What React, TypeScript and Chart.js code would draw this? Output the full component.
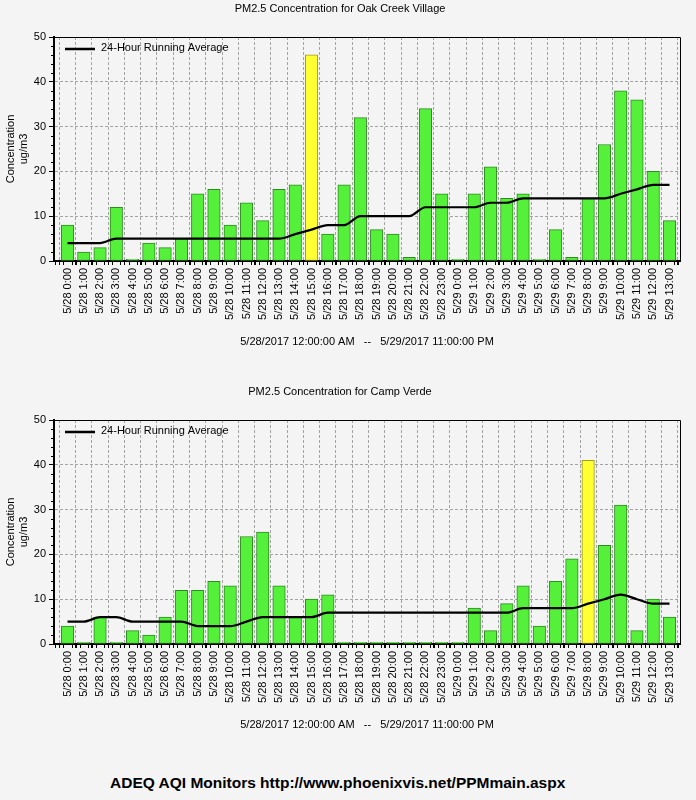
import React, { useEffect, useRef } from "react";
import { Chart, registerables } from "chart.js";

Chart.register(...registerables);

const FONT = "'Liberation Sans', Arial, Helvetica, sans-serif";
Chart.defaults.font.family = FONT;
Chart.defaults.font.size = 11;
Chart.defaults.color = "#000";

// Hourly categories shared by both monitors
const hourLabels = [
  "5/28 0:00", "5/28 1:00", "5/28 2:00", "5/28 3:00", "5/28 4:00", "5/28 5:00",
  "5/28 6:00", "5/28 7:00", "5/28 8:00", "5/28 9:00", "5/28 10:00", "5/28 11:00",
  "5/28 12:00", "5/28 13:00", "5/28 14:00", "5/28 15:00", "5/28 16:00", "5/28 17:00",
  "5/28 18:00", "5/28 19:00", "5/28 20:00", "5/28 21:00", "5/28 22:00", "5/28 23:00",
  "5/29 0:00", "5/29 1:00", "5/29 2:00", "5/29 3:00", "5/29 4:00", "5/29 5:00",
  "5/29 6:00", "5/29 7:00", "5/29 8:00", "5/29 9:00", "5/29 10:00", "5/29 11:00",
  "5/29 12:00", "5/29 13:00",
];

// Oak Creek Village, ug/m3
const oakCreekHourly = [
  8, 2, 3, 12, 0.4, 4, 3, 5, 15, 16, 8, 13, 9, 16, 17, 46, 6, 17, 32, 7, 6, 0.8, 34, 15,
  0.4, 15, 21, 14, 15, 0.4, 7, 0.8, 14, 26, 38, 36, 20, 9,
];
const oakCreekAverage = [
  4, 4, 4, 5, 5, 5, 5, 5, 5, 5, 5, 5, 5, 5, 6, 7, 8, 8, 10, 10, 10, 10, 12, 12,
  12, 12, 13, 13, 14, 14, 14, 14, 14, 14, 15, 16, 17, 17,
];
const oakCreekHighlight = ["5/28 15:00"];

// Camp Verde, ug/m3
const campVerdeHourly = [
  4, 0.4, 6, 0.4, 3, 2, 6, 12, 12, 14, 13, 24, 25, 13, 6, 10, 11, 0.4, 0.4, 0.4, 0.4, 0.4, 0.4, 0.4,
  0.4, 8, 3, 9, 13, 4, 14, 19, 41, 22, 31, 3, 10, 6,
];
const campVerdeAverage = [
  5, 5, 6, 6, 5, 5, 5, 5, 4, 4, 4, 5, 6, 6, 6, 6, 7, 7, 7, 7, 7, 7, 7, 7,
  7, 7, 7, 7, 8, 8, 8, 8, 9, 10, 11, 10, 9, 9,
];
const campVerdeHighlight = ["5/29 8:00"];

const yTickValues = [0, 10, 20, 30, 40, 50];
const yTitle = ["Concentration", "ug/m3"];
const averageLabel = "24-Hour Running Average";
const rangeLabel = "5/28/2017 12:00:00 AM   --   5/29/2017 11:00:00 PM";
const footerText = "ADEQ AQI Monitors http://www.phoenixvis.net/PPMmain.aspx";

const GREEN = "#55f03a";
const GREEN_EDGE = "#2f8a22";
const YELLOW = "#ffff33";
const YELLOW_EDGE = "#9c9c1e";
const GRID = "#a4a4a4";

const X_MIN = -0.83;
const X_MAX = hourLabels.length - 1 + 0.645;
const Y_MAX = 50;

// Thin top/right frame, minor tick marks and the in-plot legend
const framePlugin = {
  id: "frameAndLegend",
  afterDraw(chart: any) {
    const { ctx, chartArea: a, scales } = chart;
    const xs = scales.x;
    const ys = scales.y;
    ctx.save();
    ctx.strokeStyle = "#000";
    ctx.lineWidth = 1;
    ctx.beginPath();
    const top = Math.round(a.top) + 0.5;
    const right = Math.round(a.right) + 0.5;
    ctx.moveTo(a.left, top);
    ctx.lineTo(right, top);
    ctx.lineTo(right, a.bottom);
    ctx.stroke();

    ctx.beginPath();
    for (let v = Math.ceil(X_MIN * 4) / 4; v <= X_MAX; v += 0.25) {
      if (Number.isInteger(v)) continue;
      const px = Math.round(xs.getPixelForValue(v)) + 0.5;
      ctx.moveTo(px, a.bottom);
      ctx.lineTo(px, a.bottom + 4);
    }
    for (let v = 2; v < Y_MAX; v += 2) {
      if (v % 10 === 0) continue;
      const py = Math.round(ys.getPixelForValue(v)) + 0.5;
      ctx.moveTo(a.left - 3, py);
      ctx.lineTo(a.left, py);
    }
    ctx.stroke();

    const line = chart.data.datasets[0];
    const ly = a.top + 12;
    ctx.strokeStyle = line.borderColor;
    ctx.lineWidth = 2.5;
    ctx.beginPath();
    ctx.moveTo(a.left + 11, ly);
    ctx.lineTo(a.left + 41, ly);
    ctx.stroke();
    ctx.fillStyle = "#000";
    ctx.font = `11px ${FONT}`;
    ctx.textBaseline = "middle";
    ctx.textAlign = "left";
    ctx.fillText(line.label, a.left + 47, ly - 1);
    ctx.restore();
  },
};

type PanelProps = {
  title: string;
  hourly: number[];
  average: number[];
  highlight: string[];
  top: number;
};

function PanelChart({ title, hourly, average, highlight, top }: PanelProps) {
  const ref = useRef<HTMLCanvasElement>(null);

  useEffect(() => {
    const canvas = ref.current;
    if (!canvas) return;
    const chart = new Chart(canvas, {
      type: "bar",
      data: {
        datasets: [
          {
            type: "line",
            label: averageLabel,
            data: average.map((v, i) => ({ x: i, y: v })),
            borderColor: "#000",
            backgroundColor: "#000",
            borderWidth: 2.2,
            pointRadius: 0,
            cubicInterpolationMode: "monotone",
            order: 0,
          } as any,
          {
            type: "bar",
            label: "PM2.5",
            data: hourly.map((v, i) => ({ x: i, y: v })),
            backgroundColor: hourLabels.map((l) => (highlight.includes(l) ? YELLOW : GREEN)),
            borderColor: hourLabels.map((l) => (highlight.includes(l) ? YELLOW_EDGE : GREEN_EDGE)),
            borderWidth: 1,
            borderSkipped: false,
            barThickness: 12.5,
            order: 1,
          } as any,
        ],
      },
      options: {
        responsive: false,
        animation: false,
        events: [],
        layout: { padding: { left: 0, right: 16, top: 0, bottom: 11.4 } },
        plugins: {
          legend: { display: false },
          tooltip: { enabled: false },
          title: {
            display: true,
            text: title,
            color: "#000",
            font: { family: FONT, size: 11, weight: "normal" },
            padding: { top: 2.5, bottom: 21.3 },
          },
        },
        scales: {
          x: {
            type: "linear",
            min: X_MIN,
            max: X_MAX,
            offset: false,
            afterBuildTicks: (scale: any) => {
              scale.ticks = hourLabels.map((_, i) => ({ value: i }));
            },
            afterFit: (scale: any) => {
              scale.height = 87.6;
            },
            ticks: {
              autoSkip: false,
              minRotation: 90,
              maxRotation: 90,
              padding: 3,
              color: "#000",
              font: { family: FONT, size: 11 },
              callback: (v: any) => hourLabels[v] ?? "",
            },
            grid: {
              color: GRID,
              lineWidth: 1,
              tickColor: "#000",
              tickLength: 4,
            },
            border: { display: true, color: "#000", width: 2, dash: [3, 2] },
            title: {
              display: true,
              text: rangeLabel,
              color: "#000",
              font: { family: FONT, size: 11 },
              padding: 0,
            },
          } as any,
          y: {
            type: "linear",
            min: 0,
            max: Y_MAX,
            afterBuildTicks: (scale: any) => {
              scale.ticks = yTickValues.map((v) => ({ value: v }));
            },
            afterFit: (scale: any) => {
              scale.width = 54;
            },
            ticks: {
              padding: 3,
              color: "#000",
              font: { family: FONT, size: 11 },
            },
            grid: {
              color: (ctx: any) =>
                ctx.tick && (ctx.tick.value === 0 || ctx.tick.value === Y_MAX) ? "rgba(0,0,0,0)" : GRID,
              lineWidth: 1,
              tickColor: "#000",
              tickLength: 5,
            },
            border: { display: true, color: "#000", width: 2, dash: [3, 2] },
            title: {
              display: true,
              text: yTitle,
              color: "#000",
              font: { family: FONT, size: 11 },
              padding: { top: 4, bottom: 0 },
            },
          } as any,
        },
      },
      plugins: [framePlugin],
    });
    return () => chart.destroy();
  }, [title, hourly, average, highlight]);

  return (
    <canvas
      ref={ref}
      width={696}
      height={360}
      style={{ position: "absolute", left: 0, top, width: 696, height: 360 }}
    />
  );
}

export default function App() {
  return (
    <div
      style={{
        position: "absolute",
        left: 0,
        top: 0,
        width: 696,
        height: 800,
        background: "#f4f4f4",
        overflow: "hidden",
      }}
    >
      <PanelChart
        title="PM2.5 Concentration for Oak Creek Village"
        hourly={oakCreekHourly}
        average={oakCreekAverage}
        highlight={oakCreekHighlight}
        top={0}
      />
      <PanelChart
        title="PM2.5 Concentration for Camp Verde"
        hourly={campVerdeHourly}
        average={campVerdeAverage}
        highlight={campVerdeHighlight}
        top={383}
      />
      <div
        style={{
          position: "absolute",
          left: 110,
          top: 774,
          fontFamily: FONT,
          fontWeight: "bold",
          fontSize: 15.5,
          lineHeight: "18px",
          color: "#000",
          whiteSpace: "nowrap",
        }}
      >
        {footerText}
      </div>
    </div>
  );
}
